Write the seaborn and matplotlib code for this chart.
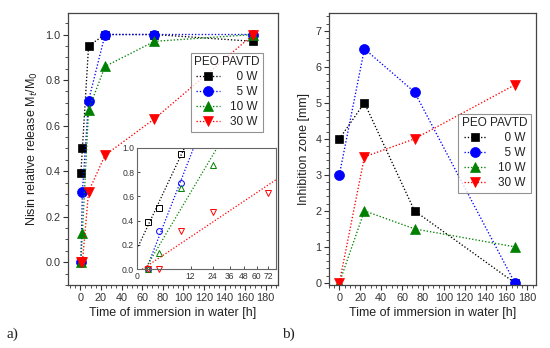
import numpy as np
import pandas as pd
import matplotlib
matplotlib.use('Agg')
import matplotlib.pyplot as plt
import seaborn as sns

# data
t_release = [0.5, 2, 8, 24, 72, 168]
rel_0w = [0.39, 0.50, 0.95, 1.00, 1.00, 0.97]
rel_5w = [0.00, 0.31, 0.71, 1.00, 1.00, 1.00]
rel_10w = [0.00, 0.13, 0.67, 0.86, 0.97, 1.00]
rel_30w = [0.00, 0.00, 0.31, 0.47, 0.63, 1.00]
n_fit = [3, 3, 4, 5]  # points used in the sqrt(t) inset

t_zone = [0, 24, 72, 168]
zone_0w = [4.0, 5.0, 2.0, 0.0]
zone_5w = [3.0, 6.5, 5.3, 0.0]
zone_10w = [0.0, 2.0, 1.5, 1.0]
zone_30w = [0.0, 3.5, 4.0, 5.5]

labels = ['0 W', '5 W', '10 W', '30 W']
leg_labels = ['  0 W', '  5 W', '10 W', '30 W']
colors = ['#000000', '#0000ff', '#008000', '#ff0000']
markers = ['s', 'o', '^', 'v']
inset_ticks = [0, 12, 24, 36, 48, 60, 72]

sns.set_style('ticks')
plt.rcParams['font.family'] = ['Liberation Sans', 'DejaVu Sans']
plt.rcParams['text.color'] = '#222222'
plt.rcParams['axes.labelcolor'] = '#222222'
plt.rcParams['xtick.color'] = '#333333'
plt.rcParams['ytick.color'] = '#333333'
plt.rcParams['axes.edgecolor'] = '#444444'

DOTS = (0, (1, 1.5))

fig = plt.figure(figsize=(5.5, 3.48), dpi=100)
ax1 = fig.add_axes([0.1236, 0.181, 0.382, 0.782])
ax2 = fig.add_axes([0.598, 0.181, 0.376, 0.782])
axin = fig.add_axes([0.249, 0.227, 0.253, 0.348])

release = pd.DataFrame({'t': t_release, '0 W': rel_0w, '5 W': rel_5w,
                        '10 W': rel_10w, '30 W': rel_30w})
zone = pd.DataFrame({'t': t_zone, '0 W': zone_0w, '5 W': zone_5w,
                     '10 W': zone_10w, '30 W': zone_30w})


def draw(ax, df):
    for lab, ll, c, m in zip(labels, leg_labels, colors, markers):
        sns.lineplot(data=df, x='t', y=lab, ax=ax, color=c, marker=m,
                     markersize=7.2 if m != 's' else 6.4, mec=c, mew=0.5,
                     linestyle=DOTS, linewidth=0.95, label=ll)


def style(ax):
    ax.minorticks_on()
    ax.tick_params(which='major', direction='out', length=3.5, width=0.8,
                   labelsize=7.8, top=False, right=False, pad=2)
    ax.tick_params(which='minor', direction='out', length=2, width=0.6,
                   top=False, right=False)
    for s in ax.spines.values():
        s.set_linewidth(0.9)
    ax.set_xlabel('Time of immersion in water [h]', fontsize=9, labelpad=3)
    ax.set_xticks(np.arange(0, 181, 20))


def legend(ax, anchor):
    leg = ax.legend(title='PEO PAVTD', loc='upper right',
                    bbox_to_anchor=anchor, fontsize=8.5,
                    title_fontsize=8.5, frameon=True, fancybox=False,
                    edgecolor='#777777', handlelength=2.0, handletextpad=0.9,
                    labelspacing=0.25, borderpad=0.3, borderaxespad=0)
    leg.get_frame().set_linewidth(0.8)


# a) release
draw(ax1, release)
style(ax1)
ax1.set_xlim(-12, 192)
ax1.set_ylim(-0.1, 1.095)
ax1.set_yticks(np.arange(0, 1.01, 0.2))
ax1.yaxis.set_major_formatter(matplotlib.ticker.FormatStrFormatter('%.1f'))
ax1.set_ylabel('Nisin relative release M$_t$/M$_0$', fontsize=9, labelpad=4)
legend(ax1, (0.929, 0.853))

# inset: release vs sqrt(t) with linear fits
xs = np.linspace(0, 9, 50)
for vals, n, c, m in zip([rel_0w, rel_5w, rel_10w, rel_30w], n_fit,
                         colors, markers):
    sq = np.sqrt(t_release[:n])
    y = np.array(vals[:n])
    k, b = np.polyfit(sq, y, 1)
    sns.lineplot(x=xs, y=k * xs + b, ax=axin, color=c, linestyle=DOTS,
                 linewidth=0.9)
    axin.plot(sq, y, linestyle='none', marker=m, mfc='none', mec=c,
              ms=4.2, mew=0.7, clip_on=False)
axin.set_xlim(0, 9)
axin.set_ylim(0, 1.0)
axin.set_xticks(np.sqrt(inset_ticks))
axin.set_xticklabels([str(v) for v in inset_ticks])
axin.set_yticks(np.arange(0, 1.01, 0.2))
axin.yaxis.set_major_formatter(matplotlib.ticker.FormatStrFormatter('%.1f'))
axin.tick_params(direction='in', length=2, width=0.6, labelsize=6.2, pad=2)
for s in axin.spines.values():
    s.set_linewidth(0.8)
    s.set_color('#666666')

# b) inhibition zone
draw(ax2, zone)
style(ax2)
ax2.set_xlim(-10, 188)
ax2.set_ylim(-0.06, 7.5)
ax2.set_yticks(np.arange(0, 8, 1))
ax2.set_ylabel('Inhibition zone [mm]', fontsize=9, labelpad=4)
legend(ax2, (0.976, 0.629))

fig.text(0.012, 0.03, 'a)', fontsize=11, family='Liberation Serif')
fig.text(0.513, 0.03, 'b)', fontsize=11, family='Liberation Serif')

plt.savefig('out.png', dpi=100)
